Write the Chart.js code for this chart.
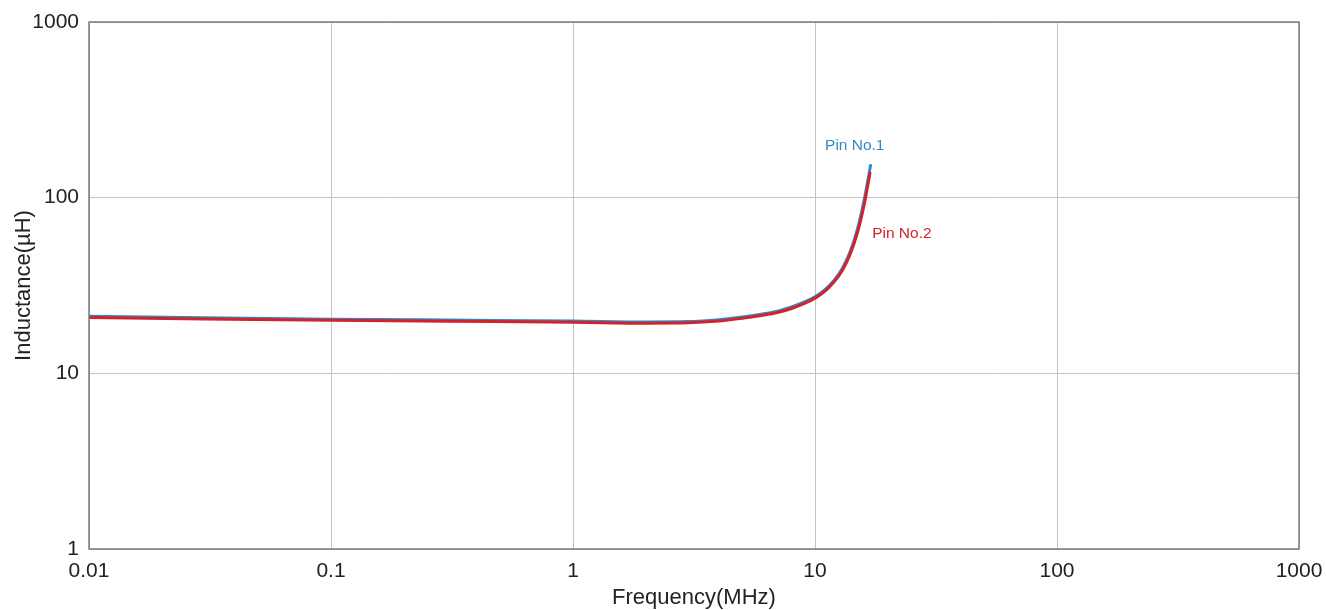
<!DOCTYPE html>
<html>
<head>
<meta charset="utf-8">
<script src="https://cdn.jsdelivr.net/npm/chart.js@4/dist/chart.umd.min.js"></script>
<style>
  html, body { margin: 0; padding: 0; background: #fff; }
  canvas { display: block; }
</style>
</head>
<body>
<canvas id="chart" width="1326" height="610"></canvas>
<script>
// frequency (MHz) and inductance (uH)
const freqPin1 = [0.01, 0.03, 0.1, 0.3, 1, 2, 3, 4, 5, 6, 7, 8, 9, 10, 11, 12, 13, 14, 15, 16, 17];
const indPin1  = [21.1, 20.7, 20.35, 20.1, 19.85, 19.6, 19.7, 20.2, 20.9, 21.7, 22.6, 23.9, 25.4, 27.3, 30.0, 33.9, 39.8, 49.7, 66.9, 98.6, 155];

const freqPin2 = [0.01, 0.03, 0.1, 0.3, 1, 2, 3, 4, 5, 6, 7, 8, 9, 10, 11, 12, 13, 14, 15, 16, 16.9];
const indPin2  = [20.8, 20.4, 20.05, 19.8, 19.55, 19.3, 19.4, 19.85, 20.55, 21.35, 22.2, 23.4, 24.9, 26.8, 29.4, 33.2, 38.8, 48.0, 63.6, 92.6, 140];

const xTicks = [0.01, 0.1, 1, 10, 100, 1000];
const yTicks = [1, 10, 100, 1000];

const seriesNames = ['Pin No.1', 'Pin No.2'];
const blue = '#2f8bc6';
const red = '#d2232c';

const toPoints = (xs, ys) => xs.map((x, i) => ({ x: x, y: ys[i] }));

// end labels, placed relative to the last point of each series
const endLabels = {
    id: 'endLabels',
    afterDatasetsDraw(chart) {
        const ctx = chart.ctx;
        const offsets = [{ dx: -16, dy: -19, align: 'center' }, { dx: 2, dy: 62, align: 'left' }];
        ctx.save();
        ctx.font = '15.5px "Liberation Sans", Arial, sans-serif';
        ctx.textBaseline = 'middle';
        chart.data.datasets.forEach((ds, i) => {
            const pts = chart.getDatasetMeta(i).data;
            const last = pts[pts.length - 1];
            ctx.fillStyle = ds.borderColor;
            ctx.textAlign = offsets[i].align;
            ctx.fillText(ds.label, last.x + offsets[i].dx, last.y + offsets[i].dy);
        });
        ctx.restore();
    }
};

// frame round the plot area
const frame = {
    id: 'frame',
    afterDraw(chart) {
        const a = chart.chartArea;
        const ctx = chart.ctx;
        ctx.save();
        ctx.strokeStyle = '#7a7a7a';
        ctx.lineWidth = 1.5;
        ctx.strokeRect(a.left, a.top, a.right - a.left, a.bottom - a.top);
        ctx.restore();
    }
};

const fontFamily = '"Liberation Sans", Arial, sans-serif';
const tickFont = { family: fontFamily, size: 21 };

new Chart(document.getElementById('chart'), {
    type: 'line',
    data: {
        datasets: [
            {
                label: seriesNames[0],
                data: toPoints(freqPin1, indPin1),
                borderColor: blue,
                borderWidth: 3,
                pointRadius: 0,
                cubicInterpolationMode: 'monotone',
                fill: false,
                order: 2
            },
            {
                label: seriesNames[1],
                data: toPoints(freqPin2, indPin2),
                borderColor: red,
                borderWidth: 3,
                pointRadius: 0,
                cubicInterpolationMode: 'monotone',
                fill: false,
                order: 1
            }
        ]
    },
    options: {
        responsive: false,
        animation: false,
        layout: { padding: { left: 0, right: 27, top: 22, bottom: 0 } },
        plugins: {
            legend: { display: false },
            tooltip: { enabled: false }
        },
        scales: {
            x: {
                type: 'logarithmic',
                min: 0.01,
                max: 1000,
                afterBuildTicks: (s) => { s.ticks = xTicks.map(v => ({ value: v })); },
                afterFit: (s) => { s.height = 61; s.paddingLeft = 0; s.paddingRight = 0; },
                grid: { color: '#c4c4c4', lineWidth: 1, drawTicks: false },
                border: { display: false },
                ticks: {
                    color: '#222',
                    font: tickFont,
                    padding: 10,
                    maxRotation: 0,
                    autoSkip: false,
                    callback: (v) => String(v)
                },
                title: {
                    display: true,
                    text: 'Frequency(MHz)',
                    color: '#222',
                    font: { family: fontFamily, size: 22, lineHeight: 1.1 },
                    padding: { top: 0, bottom: 0 }
                }
            },
            y: {
                type: 'logarithmic',
                min: 1,
                max: 1000,
                afterBuildTicks: (s) => { s.ticks = yTicks.map(v => ({ value: v })); },
                afterFit: (s) => { s.width = 89; s.paddingTop = 0; s.paddingBottom = 0; },
                grid: { color: '#c4c4c4', lineWidth: 1, drawTicks: false },
                border: { display: false },
                ticks: {
                    color: '#222',
                    font: tickFont,
                    padding: 10,
                    autoSkip: false,
                    callback: (v) => String(v)
                },
                title: {
                    display: true,
                    text: 'Inductance(µH)',
                    color: '#222',
                    font: { family: fontFamily, size: 22, lineHeight: 1.2 },
                    padding: { top: 11, bottom: 0 }
                }
            }
        }
    },
    plugins: [endLabels, frame]
});
</script>
</body>
</html>
